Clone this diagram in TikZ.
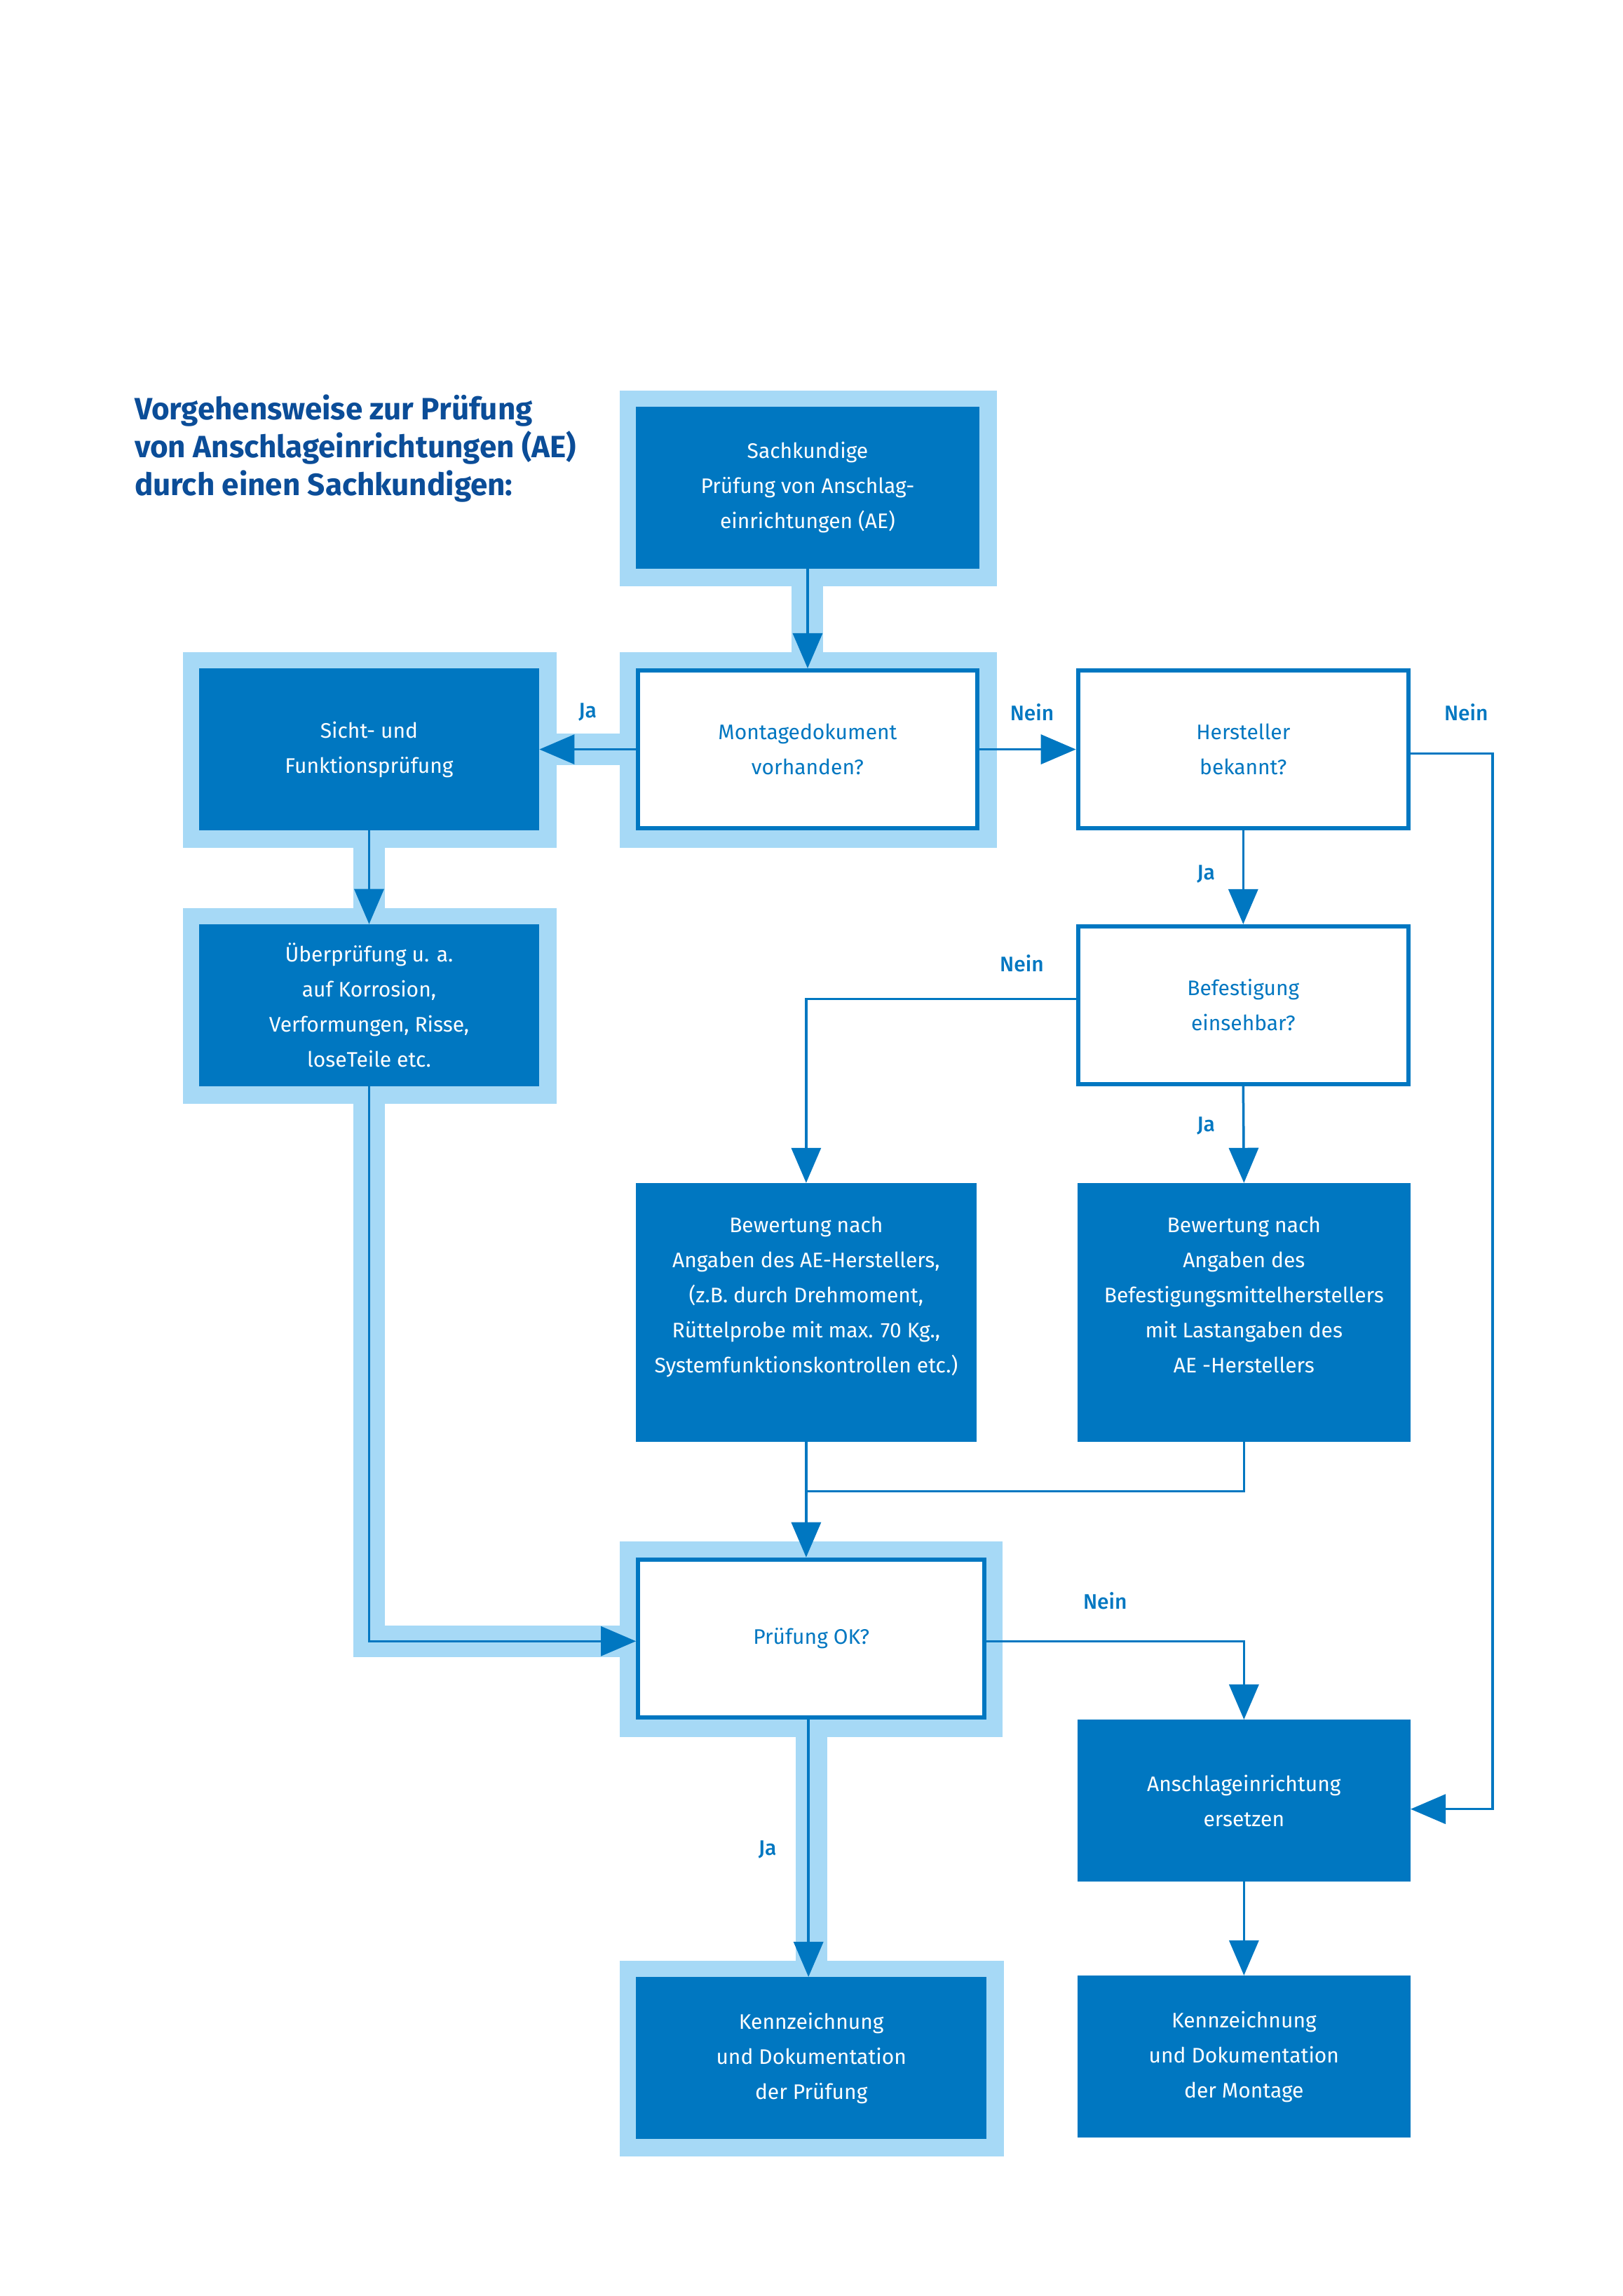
\documentclass[tikz,border=0pt]{standalone}
\usepackage{fontspec}
\setmainfont{Fira Sans}
\IfFontExistsTF{Fira Sans Medium}{\newfontfamily\medfont{Fira Sans Medium}}{\newfontfamily\medfont{Fira Sans}}
\usetikzlibrary{arrows.meta,backgrounds}
\definecolor{boxblue}{HTML}{0077C1}
\definecolor{haloblue}{HTML}{A6D9F6}
\definecolor{titleblue}{HTML}{0B4D98}
\newcommand\bxfnt{\fontsize{30pt}{50pt}\selectfont}
\newcommand\lbfnt{\medfont\fontsize{30pt}{36pt}\selectfont}
\newcommand\titlefnt{\bfseries\fontsize{44pt}{54pt}\selectfont}
\begin{document}
\begin{tikzpicture}[x=2.085pt,y=-2.085pt,
  sz/.style 2 args={minimum width=#1*2.085pt,minimum height=#2*2.085pt},
  darkbox/.style={fill=boxblue,draw=none,text=white,align=center,inner sep=0pt,outer sep=0pt,font=\bxfnt},
  whitebox/.style={fill=white,draw=boxblue,line width=6pt,text=boxblue,align=center,inner sep=0pt,font=\bxfnt},
  halo/.style={fill=haloblue,draw=none,inner sep=0pt,outer sep=0pt},
  haloline/.style={draw=haloblue,line width=45pt},
  conn/.style={draw=boxblue,line width=3.5pt,-{Triangle[length=50pt,width=42pt]}},
  plainline/.style={draw=boxblue,line width=3.5pt},
  lbl/.style={text=boxblue,font=\lbfnt,inner sep=0pt},
  titletext/.style={text=titleblue,font=\titlefnt,inner sep=0pt,anchor=base west}]
\useasboundingbox (0,0) rectangle (1109.83,1570.26);

% title
\node[titletext] (t1) at (92,287) {Vorgehensweise zur Prüfung};
\node[titletext] (t2) at (92,313) {von Anschlageinrichtungen (AE)};
\node[titletext] (t3) at (92,339) {durch einen Sachkundigen:};

% boxes
\node[darkbox,sz={235}{111}] (sach) at (552.5,333.5) {Sachkundige\\Prüfung von Anschlag-\\einrichtungen (AE)};
\node[whitebox,sz={232}{108}] (mont) at (552.5,512.5) {Montagedokument\\vorhanden?};
\node[darkbox,sz={233}{111}] (sicht) at (252.5,512.5) {Sicht- und\\Funktionsprüfung};
\node[darkbox,sz={233}{111}] (ueber) at (252.5,687.5) {Überprüfung u. a.\\auf Korrosion,\\Verformungen, Risse,\\loseTeile etc.};
\node[whitebox,sz={226}{108}] (herst) at (850.5,512.5) {Hersteller\\bekannt?};
\node[whitebox,sz={226}{108}] (befest) at (850.5,687.5) {Befestigung\\einsehbar?};
\node[darkbox,sz={233}{177}] (bewL) at (551.5,897.5) {Bewertung nach\\Angaben des AE-Herstellers,\\(z.B. durch Drehmoment,\\Rüttelprobe mit max. 70 Kg.,\\Systemfunktionskontrollen etc.)\\\mbox{}};
\node[darkbox,sz={228}{177}] (bewR) at (851,897.5) {Bewertung nach\\Angaben des\\Befestigungsmittelherstellers\\mit Lastangaben des\\AE -Herstellers\\\mbox{}};
\node[whitebox,sz={237}{108}] (ok) at (555,1120.5) {Prüfung OK?};
\node[darkbox,sz={228}{111}] (ersetzen) at (851,1231.5) {Anschlageinrichtung\\ersetzen};
\node[darkbox,sz={240}{111}] (kennL) at (555,1407.5) {Kennzeichnung\\und Dokumentation\\der Prüfung};
\node[darkbox,sz={228}{111}] (kennR) at (851,1406.5) {Kennzeichnung\\und Dokumentation\\der Montage};

\coordinate (rx) at (1021,0);
\coordinate (jn) at (0,1020);

% halos and halo strips
\begin{scope}[on background layer]
  \node[halo,sz={258}{134}] (sachH) at (553,334) {};
  \node[halo,sz={258}{134}] (montH) at (553,513) {};
  \node[halo,sz={256}{134}] (sichtH) at (253,513) {};
  \node[halo,sz={256}{134}] (ueberH) at (253,688) {};
  \node[halo,sz={262}{134}] (okH) at (555,1121) {};
  \node[halo,sz={263}{134}] (kennH) at (555.5,1408) {};
  \draw[haloline] (sach.south) -- (mont.north);
  \draw[haloline] (mont.west) -- (sicht.east);
  \draw[haloline] (sicht.south) -- (ueber.north);
  \draw[haloline] (ueber.south) |- ([yshift=-4pt]ok.west);
  \draw[haloline] (ok.south) -- (kennL.north);
\end{scope}

% connectors
\draw[conn] (sach.south) -- (mont.north);
\draw[conn] (mont.west) -- (sicht.east);
\draw[conn] (sicht.south) -- (ueber.north);
\draw[conn] (ueber.south) |- ([yshift=-4pt]ok.west);
\draw[conn] (mont.east) -- (herst.west);
\draw[conn] ([yshift=-6pt]herst.east) -- ([yshift=-6pt]herst.east -| rx) |- ([yshift=-12pt]ersetzen.east);
\draw[conn] (herst.south) -- (befest.north);
\draw[conn] ([yshift=9pt]befest.west) -| (bewL.north);
\draw[conn] (befest.south) -- (bewR.north);
\draw[conn] (bewL.south) -- (bewL.south |- ok.north);
\draw[plainline] (bewR.south) |- (bewL.south |- jn);
\draw[conn] ([yshift=-4pt]ok.east) -| (ersetzen.north);
\draw[conn] ([xshift=-4pt]ok.south) -- ([xshift=-4pt]kennL.north);
\draw[conn] (ersetzen.south) -- (kennR.north);

% labels
\node[lbl] (l1) at (402,487) {Ja};
\node[lbl] (l2) at (706,487) {Nein};
\node[lbl] (l3) at (1003,487) {Nein};
\node[lbl] (l4) at (825,598) {Ja};
\node[lbl] (l5) at (699,659) {Nein};
\node[lbl] (l6) at (825,770) {Ja};
\node[lbl] (l7) at (756,1095) {Nein};
\node[lbl] (l8) at (525,1265) {Ja};
\end{tikzpicture}
\end{document}
